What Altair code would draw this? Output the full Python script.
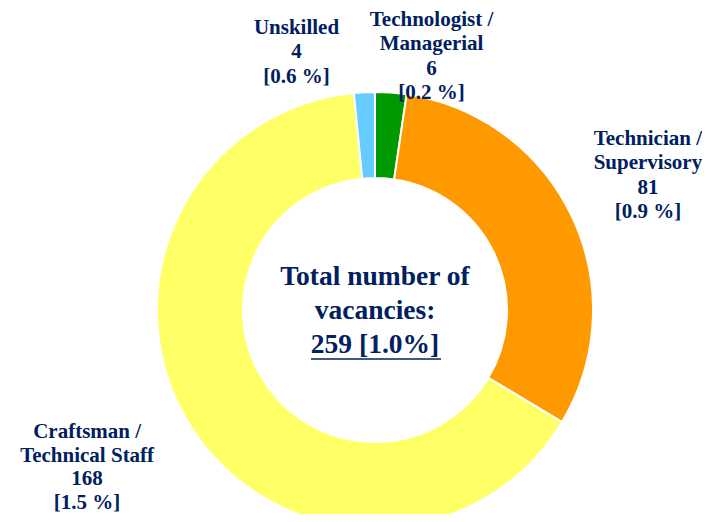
import altair as alt
import pandas as pd

# ---- data ----
categories = ["Technologist / Managerial", "Technician / Supervisory",
              "Craftsman / Technical Staff", "Unskilled"]
label_lines = [["Technologist /", "Managerial"], ["Technician /", "Supervisory"],
               ["Craftsman /", "Technical Staff"], ["Unskilled"]]
values = [6, 81, 168, 4]
shares = ["0.2", "0.9", "1.5", "0.6"]
colors = ["#009900", "#FF9900", "#FFFF66", "#66CCFF"]
center_lines = ["Total number of", "vacancies:"]
total_share = "1.0%"

total = sum(values)
NAVY = "#002060"
FONT = "Liberation Serif"
LH = 24.5

df = pd.DataFrame({
    "idx": list(range(len(categories))),
    "category": categories,
    "value": values,
    "text": ["\n".join(l + [str(v), f"[{s} %]"]) for l, v, s in zip(label_lines, values, shares)],
})

CX, CY = 367, 302
theta_scale = alt.Scale(domain=[0, total])

base = alt.Chart(df)

arcs = base.mark_arc(innerRadius=132, outerRadius=218, stroke="white", strokeWidth=2,
                     x=CX, y=CY).encode(
    theta=alt.Theta("value:Q", stack=True, scale=theta_scale),
    color=alt.Color("category:N", scale=alt.Scale(domain=categories, range=colors), legend=None),
    order=alt.Order("idx:Q", sort="ascending"),
)

# label placement (radius, dx, dy to block centre, line height) per slice
placement = {
    categories[0]: (255, 38, 1, LH),
    categories[1]: (302, 0, -5, LH),
    categories[2]: (330, -9, -19, 23.5),
    categories[3]: (258, -66, 0, LH),
}

label_layers = []
for cat, lines in zip(categories, label_lines):
    r, dx, dy, lh = placement[cat]
    n = len(lines) + 2
    lay = base.transform_window(
        cum="sum(value)", sort=[alt.SortField("idx")], frame=[None, 0]
    ).transform_calculate(
        mid="datum.cum - datum.value / 2"
    ).transform_filter(
        alt.datum.category == cat
    ).mark_text(
        radius=r, dx=dx, dy=dy - (n - 1) / 2 * lh, x=CX, y=CY, font=FONT, fontSize=21,
        fontWeight="bold", color=NAVY, lineBreak="\n", lineHeight=lh,
        align="center", baseline="middle"
    ).encode(
        theta=alt.Theta("mid:Q", stack=None, scale=theta_scale),
        text="text:N",
    )
    label_layers.append(lay)

center_df = pd.DataFrame({"t": ["\n".join(center_lines + [f"{total} [{total_share}]"])]})
center_text = alt.Chart(center_df).mark_text(
    font=FONT, fontSize=27.5, fontWeight="bold", color=NAVY, lineBreak="\n",
    lineHeight=34, align="center", baseline="middle"
).encode(
    x=alt.value(CX), y=alt.value(CY + 1 - 34), text="t:N"
)

underline = alt.Chart(center_df).mark_rule(color=NAVY, strokeWidth=1.6).encode(
    x=alt.value(CX - 64), x2=alt.value(CX + 66), y=alt.value(CY + 49)
)

chart = alt.layer(arcs, *label_layers, center_text, underline).properties(
    width=694, height=506, padding=0,
    autosize=alt.AutoSizeParams(type="none"),
).configure_view(stroke=None)

chart.save("out.html", embed_options={"renderer": "svg", "actions": False})
